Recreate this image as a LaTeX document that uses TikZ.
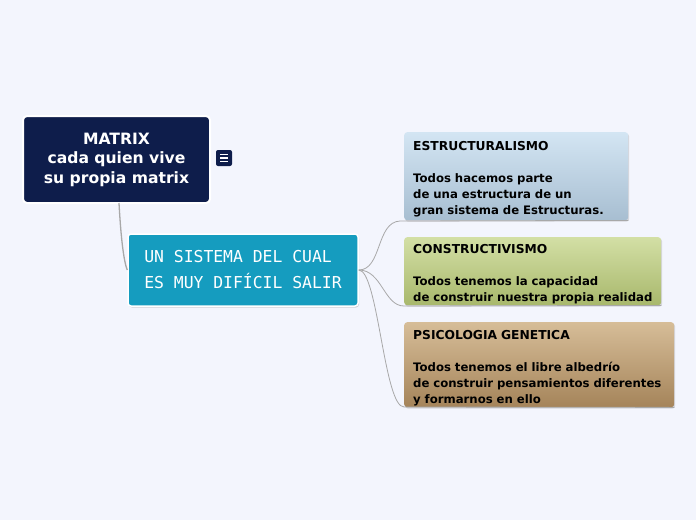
\documentclass[tikz,border=0pt]{standalone}
\usepackage{fontspec}
\setmainfont{DejaVu Sans}
\setmonofont{DejaVu Sans Mono}
\usetikzlibrary{shadows}
\definecolor{bg}{HTML}{F3F5FD}
\definecolor{navy}{HTML}{0E1D4B}
\definecolor{teal}{HTML}{159CBF}
\definecolor{conn}{HTML}{A8A8A8}
\definecolor{bluetop}{HTML}{D3E5F3}
\definecolor{bluebot}{HTML}{A7BED1}
\definecolor{greentop}{HTML}{D3DFA5}
\definecolor{greenbot}{HTML}{A8B86C}
\definecolor{browntop}{HTML}{D6BD98}
\definecolor{brownbot}{HTML}{A5845A}
\newcommand{\ttl}[1]{\mbox{\rule{0pt}{15.5pt}\fontsize{12.3}{16}\selectfont #1}}
\newcommand{\tln}[1]{\mbox{#1}}
\tikzset{
  topicbox/.style={rectangle, rounded corners=3pt, anchor=north west, inner xsep=9pt, inner ysep=0pt,
    align=left, text=black, font=\bfseries\fontsize{11.7}{16}\selectfont,
    drop shadow={shadow xshift=1pt, shadow yshift=-1.5pt, opacity=0.25}},
  link/.style={draw=conn, line width=0.8pt},
}
\begin{document}
\begin{tikzpicture}[x=1pt,y=-1pt]
\fill[bg] (0,0) rectangle (696,520);
\useasboundingbox (0,0) rectangle (696,520);

\node[rectangle, rounded corners=4pt, fill=navy, draw=white, line width=2pt,
  minimum width=187pt, minimum height=87pt, text=white, align=center,
  font=\bfseries\fontsize{15.6}{19.5}\selectfont] (m) at (116.5,159.5)
  {MATRIX\\cada quien vive\\su propia matrix};

\node[rectangle, rounded corners=2pt, fill=navy, minimum size=16pt, inner sep=0pt] (icon) at (224,158) {};
\foreach \dy in {-3.5,0,3.5}
  \draw[white, line width=1.4pt] ([xshift=-4pt,yshift=\dy pt]icon.center) -- ([xshift=4pt,yshift=\dy pt]icon.center);

\node[rectangle, rounded corners=3pt, fill=teal, draw=white, line width=1.5pt,
  minimum width=230pt, minimum height=72pt, text=white, align=left,
  font=\ttfamily\fontsize{16.4}{26}\selectfont,
  drop shadow={shadow xshift=1pt, shadow yshift=-1.5pt, opacity=0.3}] (c) at (243,270)
  {UN SISTEMA DEL CUAL\\ES MUY DIFÍCIL SALIR};

\node[topicbox, top color=bluetop, bottom color=bluebot, minimum height=88pt,
  text width=206pt] (b1) at (404,132)
  {\ttl{ESTRUCTURALISMO}\\[16pt]\tln{Todos hacemos parte}\\\tln{de una estructura de un}\\\tln{gran sistema de Estructuras.}};
\node[topicbox, top color=greentop, bottom color=greenbot, minimum height=68pt,
  text width=239pt] (b2) at (404,237)
  {\ttl{CONSTRUCTIVISMO}\\[16pt]\tln{Todos tenemos la capacidad}\\\tln{de construir nuestra propia realidad}};
\node[topicbox, top color=browntop, bottom color=brownbot, minimum height=85pt,
  text width=252pt] (b3) at (404,322)
  {\ttl{PSICOLOGIA GENETICA}\\[16pt]\tln{Todos tenemos el libre albedrío}\\\tln{de construir pensamientos diferentes}\\\tln{y formarnos en ello}};

\draw[draw=conn, line width=1.3pt] (119,203) .. controls (121,240) and (124,262) .. (c.west);
\draw[link] (c.east) .. controls (382,270) and (376,222) .. (400,221) -- (b1.south east);
\draw[link] (c.east) .. controls (382,270) and (384,306) .. (404,306) -- (b2.south east);
\draw[link] (c.east) .. controls (378,270) and (384,407) .. (404,407) -- (b3.south east);
\end{tikzpicture}
\end{document}
